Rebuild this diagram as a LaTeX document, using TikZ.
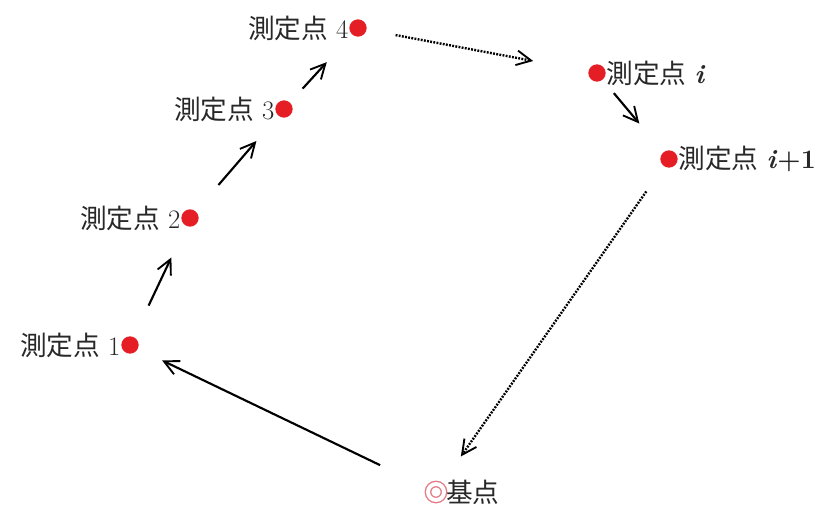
\documentclass[tikz,border=0pt]{standalone}
\usepackage{fontspec}
\usepackage{tikz}
\usetikzlibrary{arrows.meta}
\newfontfamily\jp{Noto Sans CJK JP}
\definecolor{ptred}{RGB}{228,30,36}
\definecolor{basered}{RGB}{226,120,130}
\definecolor{txtgray}{RGB}{40,40,40}
\newcommand{\sokutei}[1]{{\jp 測定点}\ #1}

\begin{document}
\begin{tikzpicture}[x=0.75pt,y=-0.75pt,
  font=\fontsize{20}{23}\selectfont, text=txtgray,
  pt/.style={circle,fill=ptred,minimum size=13pt,inner sep=0pt},
  move/.style={line width=1.6pt,-{Straight Barb[length=11pt,width=11pt,line width=1.4pt]}},
  jump/.style={move,line width=1.8pt,dash pattern=on 1.4pt off 1pt}]
\useasboundingbox (0,0) rectangle (822,510);
% measurement points
\node[pt,label={[label distance=-3pt]left:\sokutei{1}}] (p1) at (130,345) {};
\node[pt,label={[label distance=-3pt]left:\sokutei{2}}] (p2) at (190,218) {};
\node[pt,label={[label distance=-3pt]left:\sokutei{3}}] (p3) at (284,109) {};
\node[pt,label={[label distance=-3pt]left:\sokutei{4}}] (p4) at (358,28) {};
\node[pt,label={[label distance=-3pt]right:\sokutei{\textbf{\textit{i}}}}] (pi) at (597,73) {};
\node[pt,label={[label distance=-3pt]right:\sokutei{\textbf{\textit{i}+1}}}] (pj) at (669,159) {};
% base point
\node[circle,draw=basered,double=white,double distance=3pt,line width=1pt,
      minimum size=12pt,inner sep=0pt] (base) at (436,492) {};
\node[anchor=west,inner sep=1pt] (basetxt) at (base.east) {\jp 基点};
% route
\draw[move,shorten <=26pt,shorten >=26pt] (p1) -- (p2);
\draw[move,shorten <=26pt,shorten >=25pt] (p2) -- (p3);
\draw[move,shorten <=14pt,shorten >=28pt] (p3) -- (p4);
\draw[jump,shorten <=22pt,shorten >=42pt] (p4) -- (pi);
\draw[move,shorten <=13pt,shorten >=28pt] (pi) -- (pj);
\draw[jump,shorten <=23pt,shorten >=26pt] (pj) -- (base);
\draw[move,shorten <=40pt,shorten >=20pt] (base) -- (p1);
\end{tikzpicture}
\end{document}
